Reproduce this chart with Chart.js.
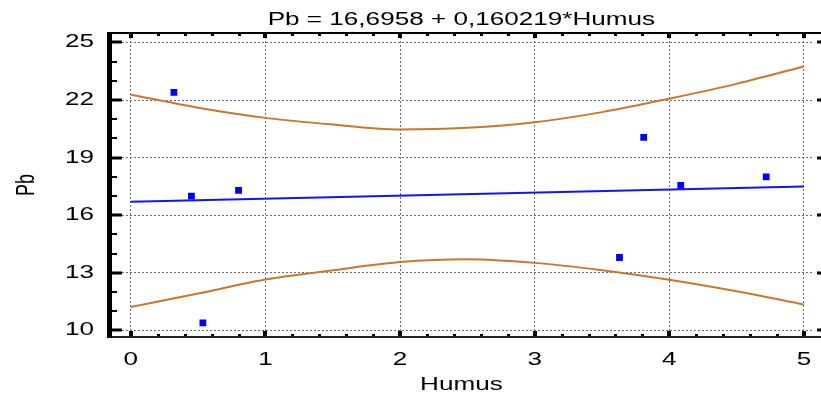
<!DOCTYPE html>
<html><head><meta charset="utf-8">
<script src="https://cdn.jsdelivr.net/npm/chart.js@4.4.0/dist/chart.umd.min.js"></script>
<style>html,body{margin:0;padding:0;background:#fff;overflow:hidden;}#wrap{width:821px;height:394px;}</style>
</head><body><div id="wrap"><canvas id="c" width="821" height="394"></canvas></div>
<script>
// ---- data ----
const titleText = 'Pb = 16,6958 + 0,160219*Humus';
const xTitle = 'Humus';
const yTitle = 'Pb';
const xTicks = [0, 1, 2, 3, 4, 5];
const yTicks = [10, 13, 16, 19, 22, 25];
const humus = [0.32, 0.45, 0.80, 0.535, 3.63, 3.81, 4.085, 4.72];
const pb = [22.4, 17.0, 17.3, 10.4, 13.8, 20.05, 17.55, 18.0];
const fitX = [0, 5];
const fitY = [16.70, 17.50];
const bandX = [0, 0.5, 1, 1.5, 2, 2.5, 3, 3.5, 4, 4.5, 5];
const upperBand = [22.28, 21.60, 21.07, 20.72, 20.46, 20.55, 20.84, 21.37, 22.07, 22.84, 23.75];
const lowerBand = [11.22, 11.92, 12.65, 13.13, 13.56, 13.71, 13.52, 13.14, 12.64, 12.04, 11.35];

const pts = (xs, ys) => xs.map((x, i) => ({x: x, y: ys[i]}));
const STRETCH = 1.45;
const FONT = 'Liberation Sans, Arial, sans-serif';

// widen glyphs horizontally (reference text is horizontally stretched)
const stretchText = {
  id: 'stretchText',
  beforeInit(chart) {
    const ctx = chart.ctx;
    const orig = ctx.fillText.bind(ctx);
    ctx.fillText = function (text, x, y) {
      const m = ctx.getTransform();
      const p = m.transformPoint(new DOMPoint(x, y));
      const s = new DOMMatrix().translate(p.x, p.y).scale(STRETCH, 1).translate(-p.x, -p.y).multiply(m);
      ctx.save();
      ctx.setTransform(s);
      orig(text, x, y);
      ctx.restore();
    };
  }
};

// frame and inward tick marks, positioned through the chart scales
const frame = {
  id: 'frame',
  afterDraw(chart) {
    const ctx = chart.ctx, a = chart.chartArea;
    const xs = chart.scales.x, ys = chart.scales.y;
    ctx.save();
    ctx.fillStyle = '#000';
    const L = a.left - 3, R = chart.width;
    ctx.fillRect(L, a.top - 1, R - L, 2);          // top
    ctx.fillStyle = '#222';
    ctx.fillRect(L, a.bottom - 1, R - L, 2);       // bottom
    ctx.fillStyle = '#000';
    ctx.fillRect(L, a.top - 1, 5, a.bottom - a.top + 2); // thick left
    for (let v = yTicks[0]; v <= yTicks[yTicks.length - 1]; v += 1) {
      const py = Math.round(ys.getPixelForValue(v));
      if (yTicks.includes(v)) {
        ctx.fillRect(L + 5, py - 1.5, 10, 3);
        ctx.fillRect(R - 4, py - 1.5, 4, 3);
      } else {
        ctx.fillRect(L + 5, py - 1, 5, 2);
      }
    }
    for (let k = 0; k <= 25; k++) {
      const v = k / 5;
      const px = Math.round(xs.getPixelForValue(v));
      if (k % 5 === 0) {
        ctx.fillRect(px - 2, a.bottom - 6, 4, 5);
        ctx.fillRect(px - 2, a.top + 1, 4, 4);
      } else {
        ctx.fillRect(px - 1, a.bottom - 3, 3, 2);
        ctx.fillRect(px - 1, a.top + 1, 3, 2);
      }
    }
    ctx.restore();
  }
};

new Chart(document.getElementById('c'), {
  type: 'scatter',
  data: {
    datasets: [
      {label: 'Observed', data: pts(humus, pb), pointStyle: 'rect', pointRadius: 4.8,
       backgroundColor: '#0000ff', borderWidth: 0, showLine: false},
      {label: 'Fit', data: pts(fitX, fitY), showLine: true, borderColor: '#1414f0',
       borderWidth: 2, pointRadius: 0},
      {label: 'Upper', data: pts(bandX, upperBand), showLine: true, borderColor: '#c8782e',
       borderWidth: 2, pointRadius: 0, cubicInterpolationMode: 'monotone'},
      {label: 'Lower', data: pts(bandX, lowerBand), showLine: true, borderColor: '#c8782e',
       borderWidth: 2, pointRadius: 0, cubicInterpolationMode: 'monotone'}
    ]
  },
  options: {
    responsive: false, animation: false, devicePixelRatio: 1,
    layout: {padding: {left: 0, right: 3, top: 0, bottom: 0}},
    plugins: {
      legend: {display: false}, tooltip: {enabled: false},
      title: {display: true, text: titleText, fullSize: false, color: '#000',
              font: {family: FONT, size: 18, weight: 'normal'}, padding: {top: 9, bottom: 2.4}}
    },
    scales: {
      x: {
        type: 'linear', min: -0.155, max: 5.066,
        afterBuildTicks: s => { s.ticks = xTicks.map(v => ({value: v})); },
        afterFit: s => { s.height = 57; },
        grid: {color: '#6a6a6a', lineWidth: 1, drawTicks: false},
        border: {display: false, dash: [2, 2]},
        ticks: {color: '#000', font: {family: FONT, size: 18}, padding: 12, autoSkip: false, maxRotation: 0},
        title: {display: true, text: xTitle, color: '#000', font: {family: FONT, size: 18, lineHeight: 1.0}, padding: {top: 0, bottom: 0}}
      },
      y: {
        type: 'linear', min: 9.66, max: 25.49,
        afterBuildTicks: s => { s.ticks = yTicks.map(v => ({value: v})); },
        afterFit: s => { s.width = 110; },
        grid: {color: '#6a6a6a', lineWidth: 1, drawTicks: false},
        border: {display: false, dash: [2, 2]},
        ticks: {color: '#000', font: {family: FONT, size: 18}, padding: 16, autoSkip: false},
        title: {display: true, text: yTitle, color: '#000', font: {family: FONT, size: 18}, padding: {top: 16, bottom: 0}}
      }
    }
  },
  plugins: [stretchText, frame]
});
</script>
</body></html>
